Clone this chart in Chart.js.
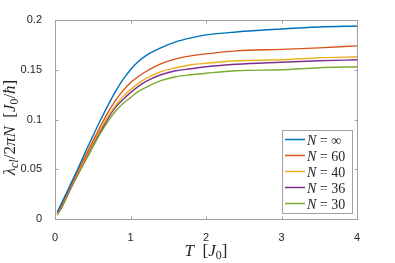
<!DOCTYPE html>
<html>
<head>
<meta charset="utf-8">
<script src="https://cdn.jsdelivr.net/npm/chart.js@4.4.1/dist/chart.umd.min.js"></script>
<style>
  html, body { margin: 0; padding: 0; background: #fff; }
  #wrap { width: 395px; height: 263px; }
</style>
</head>
<body>
<div id="wrap"><canvas id="lineChart"></canvas></div>
<script>
// ==========================
// DATA
// ==========================
const suhu = [0.03, 0.1, 0.2, 0.3, 0.4, 0.5, 0.6, 0.7, 0.8, 0.9, 1.0, 1.1, 1.2, 1.4, 1.6, 1.8, 2.0, 2.4, 3.0, 3.5, 4.0];

const nInf = [0.007, 0.018, 0.034, 0.050, 0.067, 0.083, 0.099, 0.114, 0.128, 0.140, 0.150, 0.158, 0.164, 0.172, 0.178, 0.182, 0.185, 0.188, 0.191, 0.193, 0.194];
const n60  = [0.006, 0.016, 0.032, 0.048, 0.063, 0.078, 0.093, 0.107, 0.119, 0.129, 0.137, 0.143, 0.148, 0.156, 0.161, 0.164, 0.166, 0.169, 0.1705, 0.172, 0.174];
const n40  = [0.005, 0.015, 0.031, 0.046, 0.061, 0.076, 0.090, 0.103, 0.114, 0.123, 0.130, 0.136, 0.141, 0.148, 0.152, 0.155, 0.1565, 0.159, 0.160, 0.162, 0.163];
const n36  = [0.005, 0.014, 0.030, 0.045, 0.060, 0.075, 0.088, 0.101, 0.112, 0.120, 0.127, 0.133, 0.138, 0.145, 0.149, 0.151, 0.153, 0.1555, 0.1575, 0.159, 0.160];
const n30  = [0.004, 0.013, 0.029, 0.044, 0.058, 0.072, 0.086, 0.098, 0.108, 0.116, 0.122, 0.128, 0.132, 0.139, 0.143, 0.145, 0.1465, 0.149, 0.150, 0.152, 0.153];

const labelN = ["\u221E", "60", "40", "36", "30"];
const warna = ["#0072BD", "#D95319", "#EDB120", "#7E2F8E", "#77AC30"];

const xTicks = [0, 1, 2, 3, 4];
const yTicks = [0, 0.05, 0.1, 0.15, 0.2];

// ==========================
// HELPER
// ==========================
const SERIF = "'Liberation Serif', 'DejaVu Serif', serif";
const SANS = "'Liberation Sans', Arial, sans-serif";

function fontOf(p, size) {
  const s = p.s ? size * 0.7 : size;
  return (p.i ? "italic " : "") + s + "px " + SERIF;
}

function lebarTeks(ctx, parts, size) {
  let w = 0;
  parts.forEach(p => {
    ctx.font = fontOf(p, size);
    w += ctx.measureText(p.t).width;
  });
  return w;
}

function tulisTeks(ctx, parts, x, y, size) {
  ctx.textAlign = "left";
  ctx.textBaseline = "alphabetic";
  parts.forEach(p => {
    ctx.font = fontOf(p, size);
    ctx.fillText(p.t, x, p.s ? y + size * 0.2 : y);
    x += ctx.measureText(p.t).width;
  });
  return x;
}

function titik(ys) {
  return suhu.map((t, i) => ({ x: t, y: ys[i] }));
}

// ==========================
// AXES + LEGEND PLUGIN
// ==========================
const gayaMatlab = {
  id: "gayaMatlab",
  afterDraw(chart) {
    const ctx = chart.ctx;
    const a = chart.chartArea;
    const sx = chart.scales.x;
    const sy = chart.scales.y;
    const L = Math.round(a.left) + 0.5, R = Math.round(a.right) + 0.5;
    const T = Math.round(a.top) + 0.5, B = Math.round(a.bottom) + 0.5;

    ctx.save();
    ctx.strokeStyle = "#a0a0a0";
    ctx.lineWidth = 1;
    ctx.strokeRect(L, T, R - L, B - T);

    // ticks inside, on all four sides
    ctx.beginPath();
    xTicks.forEach(v => {
      const px = Math.round(sx.getPixelForValue(v)) + 0.5;
      ctx.moveTo(px, B); ctx.lineTo(px, B - 3);
      ctx.moveTo(px, T); ctx.lineTo(px, T + 3);
    });
    yTicks.forEach(v => {
      const py = Math.round(sy.getPixelForValue(v)) + 0.5;
      ctx.moveTo(L, py); ctx.lineTo(L + 3, py);
      ctx.moveTo(R, py); ctx.lineTo(R - 3, py);
    });
    ctx.stroke();

    // axis titles
    ctx.fillStyle = "#262626";
    const judulX = [{ t: "T", i: true }, { t: "  [" }, { t: "J", i: true }, { t: "0", s: true }, { t: "]" }];
    const wx = lebarTeks(ctx, judulX, 17);
    tulisTeks(ctx, judulX, (a.left + a.right) / 2 - wx / 2, 256, 17);

    const judulY = [
      { t: "\u03BB", i: true }, { t: "cl", i: true, s: true }, { t: "/2" }, { t: "\u03C0", i: true },
      { t: "N", i: true }, { t: "  [" }, { t: "J", i: true }, { t: "0", s: true }, { t: "/" },
      { t: "\u0127", i: true }, { t: "]" }
    ];
    const wy = lebarTeks(ctx, judulY, 17);
    ctx.translate(15, (a.top + a.bottom) / 2 + 8);
    ctx.rotate(-Math.PI / 2);
    tulisTeks(ctx, judulY, -wy / 2, 0, 17);
    ctx.restore();

    // legend
    ctx.save();
    const kx = 282.5, ky = 130.5, kw = 70, kh = 83;
    ctx.fillStyle = "#fff";
    ctx.fillRect(kx, ky, kw, kh);
    ctx.strokeStyle = "#a0a0a0";
    ctx.lineWidth = 1;
    ctx.strokeRect(kx, ky, kw, kh);
    chart.data.datasets.forEach((ds, i) => {
      const yy = 139.5 + i * 16;
      ctx.strokeStyle = ds.borderColor;
      ctx.lineWidth = 1.5;
      ctx.beginPath();
      ctx.moveTo(285, yy); ctx.lineTo(305, yy);
      ctx.stroke();
      ctx.fillStyle = "#262626";
      tulisTeks(ctx, [{ t: "N", i: true }, { t: " = " + ds.label }], 307, yy + 5, 14);
    });
    ctx.restore();
  }
};

// ==========================
// CHART
// ==========================
const daftarSeri = [nInf, n60, n40, n36, n30];

new Chart(document.getElementById("lineChart"), {
  type: "line",
  data: {
    datasets: daftarSeri.map((ys, i) => ({
      label: labelN[i],
      data: titik(ys),
      borderColor: warna[i],
      backgroundColor: warna[i],
      borderWidth: 1.4,
      pointRadius: 0,
      cubicInterpolationMode: "monotone",
      fill: false
    }))
  },
  options: {
    responsive: true,
    maintainAspectRatio: false,
    animation: false,
    layout: { padding: { left: 0, right: 38, top: 20, bottom: 0 } },
    plugins: {
      legend: { display: false },
      tooltip: { enabled: false }
    },
    scales: {
      x: {
        type: "linear",
        min: 0, max: 4,
        afterFit: s => { s.height = 44; },
        afterBuildTicks: s => { s.ticks = xTicks.map(v => ({ value: v })); },
        grid: { display: false },
        border: { display: false },
        ticks: {
          color: "#262626",
          padding: 4,
          maxRotation: 0,
          font: { family: SANS, size: 11 },
          callback: v => String(v)
        }
      },
      y: {
        min: 0, max: 0.2,
        afterFit: s => { s.width = 55; },
        afterBuildTicks: s => { s.ticks = yTicks.map(v => ({ value: v })); },
        grid: { display: false },
        border: { display: false },
        ticks: {
          color: "#262626",
          padding: 5,
          font: { family: SANS, size: 11 },
          callback: v => String(+v.toFixed(2))
        }
      }
    }
  },
  plugins: [gayaMatlab]
});
</script>
</body>
</html>
